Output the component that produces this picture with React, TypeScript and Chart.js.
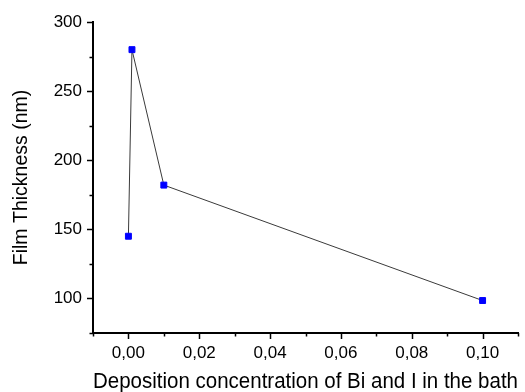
import React, { useEffect, useRef } from "react";
import { Chart, registerables } from "chart.js";

Chart.register(...registerables);

const concentrations = [0, 0.001, 0.01, 0.1];
const thickness = [145, 280, 182, 98.5];
const xMajorTicks = [0, 0.02, 0.04, 0.06, 0.08, 0.1];
const xMinorTicks = [-0.01, 0.01, 0.03, 0.05, 0.07, 0.09, 0.11];
const yMajorTicks = [100, 150, 200, 250, 300];
const yMinorTicks = [75, 125, 175, 225, 275];
const xTitle = "Deposition concentration of Bi and I in the bath";
const yTitle = "Film Thickness (nm)";

const tickMarks = {
  id: "tickMarks",
  afterDraw(chart: any) {
    const { ctx, chartArea, scales } = chart;
    const xs = scales.x;
    const ys = scales.y;
    ctx.save();
    ctx.strokeStyle = "#000";
    ctx.lineWidth = 1.5;
    const drawX = (v: number, len: number) => {
      const px = Math.round(xs.getPixelForValue(v)) + 0.5;
      ctx.beginPath();
      ctx.moveTo(px, chartArea.bottom);
      ctx.lineTo(px, chartArea.bottom + len);
      ctx.stroke();
    };
    const drawY = (v: number, len: number) => {
      const py = Math.round(ys.getPixelForValue(v)) + 0.5;
      ctx.beginPath();
      ctx.moveTo(chartArea.left, py);
      ctx.lineTo(chartArea.left - len, py);
      ctx.stroke();
    };
    xMajorTicks.forEach((v) => drawX(v, 6));
    xMinorTicks.forEach((v) => drawX(v, 3.5));
    yMajorTicks.forEach((v) => drawY(v, 6));
    yMinorTicks.forEach((v) => drawY(v, 3.5));
    ctx.restore();
  },
};

export default function App() {
  const ref = useRef<HTMLCanvasElement>(null);
  useEffect(() => {
    document.body.style.margin = "0";
    const chart = new Chart(ref.current as HTMLCanvasElement, {
      type: "line",
      data: {
        datasets: [
          {
            data: concentrations.map((x, i) => ({ x, y: thickness[i] })),
            borderColor: "#3a3a3a",
            borderWidth: 1,
            pointStyle: "rect",
            pointRadius: 4.2,
            pointBackgroundColor: "#0000ff",
            pointBorderColor: "#0000ff",
            pointBorderWidth: 1,
            tension: 0,
          },
        ],
      },
      options: {
        animation: false,
        responsive: false,
        layout: { padding: { top: 22, right: 7, left: 0, bottom: 0 } },
        plugins: { legend: { display: false }, tooltip: { enabled: false } },
        scales: {
          x: {
            type: "linear",
            min: -0.01,
            max: 0.11,
            afterBuildTicks: (s: any) => {
              s.ticks = xMajorTicks.map((value) => ({ value }));
            },
            afterFit: (s: any) => {
              s.height = 59;
            },
            grid: { display: false, drawTicks: false },
            border: { display: true, color: "#000", width: 2 },
            ticks: {
              padding: 10,
              color: "#000",
              maxRotation: 0,
              font: { family: "'Liberation Sans', Arial, sans-serif", size: 17 },
              callback: (v: any) => Number(v).toFixed(2).replace(".", ","),
            },
            title: {
              display: true,
              text: xTitle,
              color: "#000",
              padding: { bottom: -1, top: 0 },
              font: { family: "'Liberation Sans', Arial, sans-serif", size: 21.5, lineHeight: 1 },
            },
          },
          y: {
            type: "linear",
            min: 75,
            max: 300,
            afterBuildTicks: (s: any) => {
              s.ticks = yMajorTicks.map((value) => ({ value }));
            },
            afterFit: (s: any) => {
              s.width = 93;
            },
            grid: { display: false, drawTicks: false },
            border: { display: true, color: "#000", width: 2 },
            ticks: {
              padding: 11,
              color: "#000",
              font: { family: "'Liberation Sans', Arial, sans-serif", size: 17 },
              callback: (v: any) => String(v),
            },
            title: {
              display: true,
              text: yTitle,
              color: "#000",
              padding: { top: 10, bottom: 0 },
              font: { family: "'Liberation Sans', Arial, sans-serif", size: 19.5 },
            },
          },
        },
      },
      plugins: [tickMarks],
    } as any);
    return () => chart.destroy();
  }, []);
  return (
    <div style={{ position: "absolute", left: 0, top: 0, width: 525, height: 392, background: "#fff" }}>
      <canvas ref={ref} width={525} height={392} style={{ display: "block" }} />
    </div>
  );
}
